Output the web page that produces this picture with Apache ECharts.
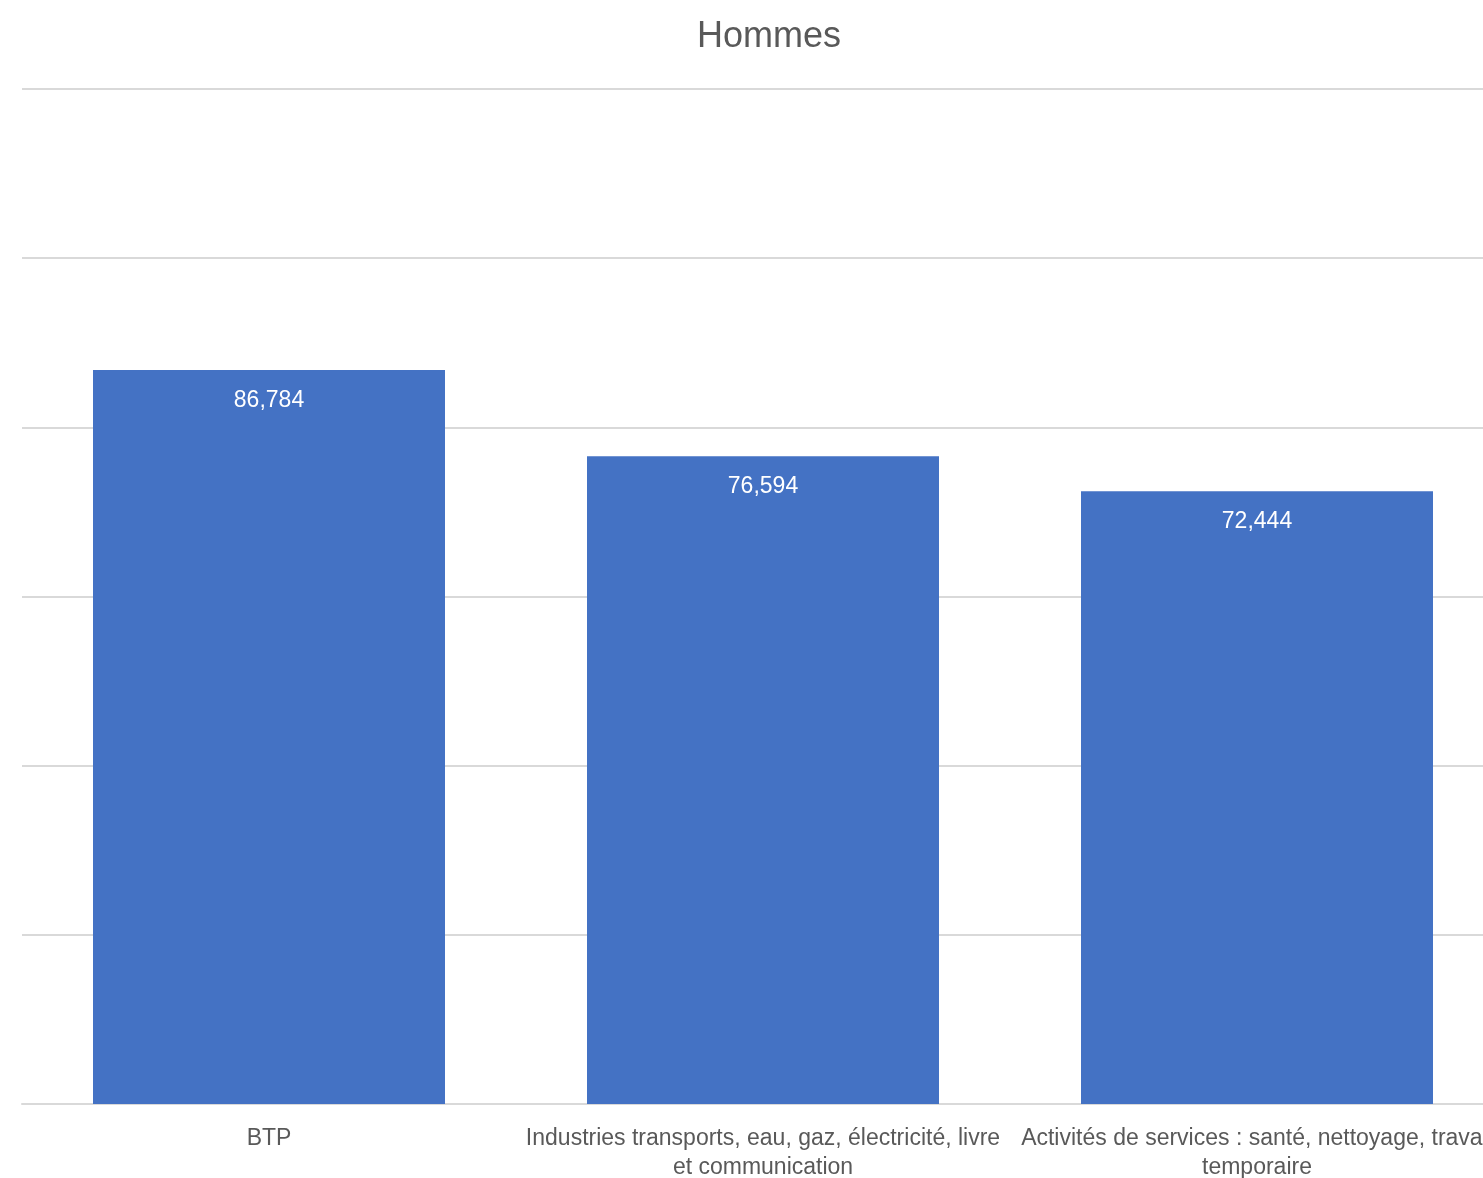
<!DOCTYPE html>
<html>
<head>
<meta charset="utf-8">
<script src="https://cdn.jsdelivr.net/npm/echarts@6/dist/echarts.min.js"></script>
<style>
html,body{margin:0;padding:0;background:#fff;}
#chart{width:1483px;height:1178px;}
</style>
</head>
<body>
<div id="chart"></div>
<script>
var title = "Hommes";
var categories = [
  "BTP",
  "Industries transports, eau, gaz, électricité, livre\net communication",
  "Activités de services : santé, nettoyage, travail\ntemporaire"
];
var values = [86784, 76594, 72444];
var yMin = 0, yMax = 120000, yInterval = 20000;

var chart = echarts.init(document.getElementById('chart'));
var fontFam = "'Liberation Sans', Arial, sans-serif";
chart.setOption({
  backgroundColor: '#fff',
  animation: false,
  title: {
    text: title,
    left: 764, textAlign: 'center', top: 14,
    textStyle: {color: '#595959', fontSize: 36, fontWeight: 'normal', fontFamily: fontFam}
  },
  grid: {left: 22, width: 1482, top: 89, height: 1015, containLabel: false, outerBoundsMode: 'none'},
  xAxis: {
    type: 'category',
    data: categories,
    axisLine: {show: true, lineStyle: {color: '#d9d9d9', width: 2}},
    axisTick: {show: false},
    axisLabel: {
      color: '#595959', fontSize: 23, fontFamily: fontFam, margin: 20, lineHeight: 29,
      interval: 0
    }
  },
  yAxis: {
    type: 'value', min: yMin, max: yMax, interval: yInterval,
    axisLabel: {show: false},
    axisLine: {show: false}, axisTick: {show: false},
    splitLine: {lineStyle: {color: '#d9d9d9', width: 2}}
  },
  series: [{
    type: 'bar',
    data: values,
    barWidth: 352,
    itemStyle: {color: '#4472C4'},
    label: {
      show: true, position: 'insideTop', distance: 19,
      color: '#ffffff', fontSize: 23, fontFamily: fontFam,
      formatter: function(p){ return p.value.toLocaleString('en-US'); }
    }
  }]
});
</script>
</body>
</html>
